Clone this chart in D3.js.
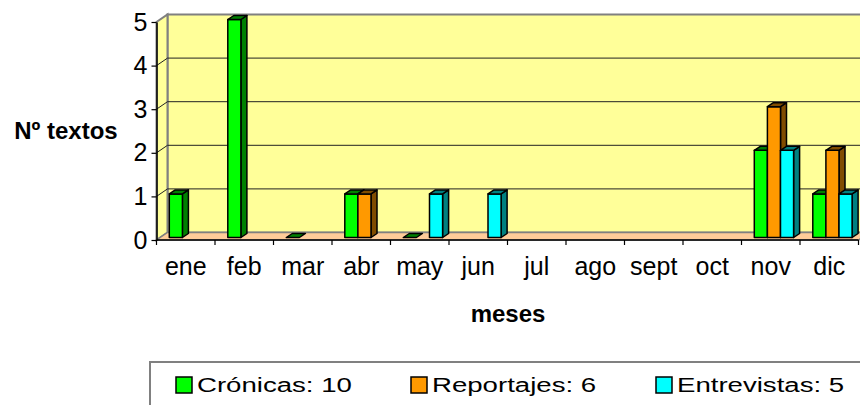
<!DOCTYPE html>
<html>
<head>
<meta charset="utf-8">
<script src="https://cdn.jsdelivr.net/npm/d3@7"></script>
<style>
  body { margin: 0; background: #fff; }
  svg { display: block; font-family: "Liberation Sans", Arial, sans-serif; }
</style>
</head>
<body>
<svg id="chart" width="860" height="405"></svg>
<script>
// data (null = no bar drawn)
const months = ["ene", "feb", "mar", "abr", "may", "jun", "jul", "ago", "sept", "oct", "nov", "dic"];
const cronicas = [1, 5, 0, 1, 0, null, null, null, null, null, 2, 1];
const reportajes = [null, null, null, 1, null, null, null, null, null, null, 3, 2];
const entrevistas = [null, null, null, null, 1, 1, null, null, null, null, 2, 1];
const yTicks = [0, 1, 2, 3, 4, 5];

const series = [
  { name: "Crónicas", values: cronicas, fill: "#00ff00", dark: "#008000" },
  { name: "Reportajes", values: reportajes, fill: "#ff9900", dark: "#804c00" },
  { name: "Entrevistas", values: entrevistas, fill: "#00ffff", dark: "#008080" }
];

const svg = d3.select("#chart");

// 3d depth of the plot box
const DX = 11, DY = 7.5;

const x0 = d3.scaleBand().domain(months).range([156.5, 858.5]);
const x1 = d3.scaleBand().domain(series.map(s => s.name)).range([12.8, 52.1]);
const y = d3.scaleLinear().domain([0, 5]).range([240, 22]);

const wallFill = "#ffff99";
const floorFill = "#ffcc99";
const wallStroke = "#808080";

const plot = svg.append("g");

// back wall
plot.append("rect")
  .attr("x", x0.range()[0] + DX).attr("y", y(5) - DY)
  .attr("width", 900).attr("height", y(0) - y(5))
  .attr("fill", wallFill).attr("stroke", wallStroke).attr("stroke-width", 2);

// left wall
plot.append("polygon")
  .attr("points", [[156.5, y(0)], [156.5, y(5)], [156.5 + DX, y(5) - DY], [156.5 + DX, y(0) - DY]].join(" "))
  .attr("fill", wallFill).attr("stroke", wallStroke).attr("stroke-width", 2);

// floor
plot.append("polygon")
  .attr("points", [[156.5, y(0)], [858.5, y(0)], [858.5 + DX, y(0) - DY], [156.5 + DX, y(0) - DY]].join(" "))
  .attr("fill", floorFill).attr("stroke", wallStroke).attr("stroke-width", 1.5);

// gridlines on back and left wall
const grid = plot.append("g").attr("stroke", "#222").attr("stroke-width", 1).attr("fill", "none");
yTicks.filter(t => t > 0 && t < 5).forEach(t => {
  grid.append("path")
    .attr("d", `M156.5,${y(t)}L${156.5 + DX},${y(t) - DY}H900`);
});

// bars
const BDX = 6, BDY = 4, LIFT = 2.5;
const bw = x1.bandwidth();
const barG = plot.append("g").attr("stroke", "#000").attr("stroke-width", 1.5).attr("stroke-linejoin", "round");

const barData = [];
months.forEach((m, i) => {
  series.forEach(s => {
    const v = s.values[i];
    if (v !== null) barData.push({ m, s, v });
  });
});

barData.forEach(d => {
  const xf = x0(d.m) + x1(d.s.name);
  const yb = y(0) - LIFT;
  const yt = y(d.v) - LIFT;
  const g = barG.append("g");
  if (d.v > 0) {
    g.append("polygon")
      .attr("points", [[xf + bw, yt], [xf + bw + BDX, yt - BDY], [xf + bw + BDX, yb - BDY], [xf + bw, yb]].join(" "))
      .attr("fill", d.s.dark);
    g.append("rect")
      .attr("x", xf).attr("y", yt).attr("width", bw).attr("height", yb - yt)
      .attr("fill", d.s.fill);
  }
  g.append("polygon")
    .attr("points", [[xf, yt], [xf + bw, yt], [xf + bw + BDX, yt - BDY], [xf + BDX, yt - BDY]].join(" "))
    .attr("fill", d.s.dark);
});

// y axis
const yAxis = svg.append("g")
  .attr("transform", "translate(156.5,0)")
  .call(d3.axisLeft(y).tickValues(yTicks).tickFormat(d3.format("d")).tickSize(5).tickSizeOuter(0).tickPadding(4));
yAxis.attr("font-family", null).attr("font-size", null);
yAxis.select(".domain").attr("stroke", "#000").attr("stroke-width", 1.5);
yAxis.selectAll("line").attr("stroke", "#000").attr("stroke-width", 1.2);
yAxis.selectAll("text").attr("font-size", 25).attr("fill", "#000");

// x axis line, ticks at band edges, labels at band centers
const xAxis = svg.append("g");
xAxis.append("line")
  .attr("x1", x0.range()[0]).attr("x2", x0.range()[1])
  .attr("y1", y(0)).attr("y2", y(0))
  .attr("stroke", "#000").attr("stroke-width", 1.5);
const edges = months.map(m => x0(m)).concat([x0.range()[1]]);
xAxis.selectAll(".tk").data(edges).join("line")
  .attr("x1", d => d).attr("x2", d => d)
  .attr("y1", y(0)).attr("y2", y(0) + 5)
  .attr("stroke", "#000").attr("stroke-width", 1.2);
xAxis.selectAll(".lbl").data(months).join("text")
  .attr("x", d => x0(d) + x0.bandwidth() / 2)
  .attr("y", 275)
  .attr("text-anchor", "middle")
  .attr("font-size", 25)
  .text(d => d);

// axis titles
svg.append("text")
  .attr("x", 66).attr("y", 139)
  .attr("text-anchor", "middle")
  .attr("font-size", 24).attr("font-weight", "bold")
  .text("Nº textos");
svg.append("text")
  .attr("x", 508).attr("y", 322)
  .attr("text-anchor", "middle")
  .attr("font-size", 24).attr("font-weight", "bold")
  .text("meses");

// legend (text is drawn wide, as in the picture)
const legend = svg.append("g");
legend.append("rect")
  .attr("x", 150).attr("y", 362).attr("width", 740).attr("height", 80)
  .attr("fill", "#fff").attr("stroke", "#808080").attr("stroke-width", 2);
const legendX = [176, 411, 656];
series.forEach((s, i) => {
  const total = d3.sum(s.values);
  const item = legend.append("g").attr("transform", `translate(${legendX[i]},377)`);
  item.append("rect")
    .attr("x", 0).attr("y", 0).attr("width", 16).attr("height", 16)
    .attr("fill", s.fill).attr("stroke", "#000").attr("stroke-width", 1.5);
  item.append("text")
    .attr("transform", "translate(21,15) scale(1.38,1)")
    .attr("font-size", 20)
    .text(`${s.name}: ${total}`);
});
</script>
</body>
</html>
